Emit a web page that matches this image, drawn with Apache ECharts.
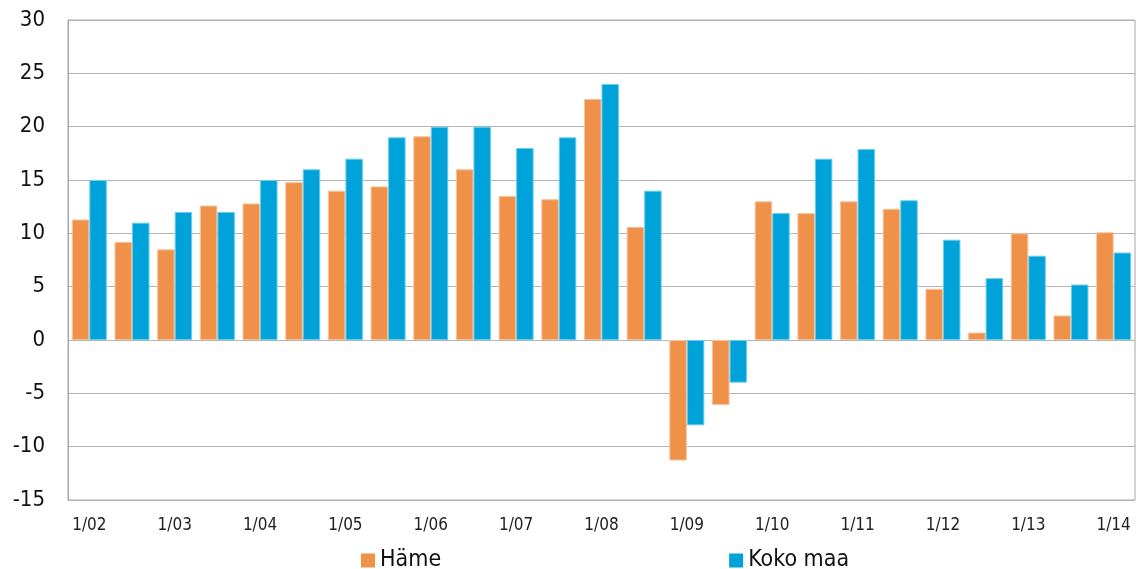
<!DOCTYPE html>
<html>
<head>
<meta charset="utf-8">
<script src="https://cdn.jsdelivr.net/npm/echarts@6/dist/echarts.min.js"></script>
<style>
  html, body { margin: 0; padding: 0; background: #fff; }
  #chart { width: 1146px; height: 569px; }
</style>
</head>
<body>
<div id="chart"></div>
<script>
// half-year periods, every other one labelled on the axis
const periods = [
  '1/02', '7/02', '1/03', '7/03', '1/04', '7/04', '1/05', '7/05', '1/06', '7/06',
  '1/07', '7/07', '1/08', '7/08', '1/09', '7/09', '1/10', '7/10', '1/11', '7/11',
  '1/12', '7/12', '1/13', '7/13', '1/14',
]
const hame = [
  11.3, 9.2, 8.5, 12.6, 12.8, 14.8, 14.0, 14.4, 19.1, 16.0,
  13.5, 13.2, 22.6, 10.6, -11.3, -6.1, 13.0, 11.9, 13.0, 12.3,
  4.8, 0.7, 10.0, 2.3, 10.1,
]
const kokoMaa = [
  15, 11, 12, 12, 15, 16, 17, 19, 20, 20,
  18, 19, 24, 14, -8, -4, 11.9, 17, 17.9, 13.1,
  9.4, 5.8, 7.9, 5.2, 8.2,
]

const font = 'DejaVu Sans Condensed'
const chart = echarts.init(document.getElementById('chart'), null, { renderer: 'canvas' })

chart.setOption({
  animation: false,
  textStyle: { fontFamily: font },
  grid: {
    left: 68, right: 11, top: 20, bottom: 69,
    show: true, borderColor: '#a6a6a6', borderWidth: 1,
  },
  legend: {
    top: 544,
    left: 356,
    itemWidth: 14,
    itemHeight: 14,
    itemGap: 288,
    icon: 'rect',
    itemStyle: { borderWidth: 0 },
    textStyle: { fontFamily: font, fontSize: 23, color: '#111' },
    data: ['Häme', 'Koko maa'],
  },
  xAxis: {
    type: 'category',
    data: periods,
    axisLine: { show: false, onZero: false },
    axisTick: { show: false },
    axisLabel: {
      interval: 1,
      margin: 17,
      fontSize: 17,
      color: '#222',
      fontFamily: font,
    },
  },
  yAxis: {
    type: 'value',
    min: -15,
    max: 30,
    interval: 5,
    axisLine: { show: true, lineStyle: { color: '#a6a6a6' } },
    axisTick: { show: false },
    axisLabel: { fontSize: 22, color: '#111', margin: 23, fontFamily: font },
    splitLine: { lineStyle: { color: '#b4b4b4', width: 1 } },
  },
  series: [
    {
      name: 'Häme',
      type: 'bar',
      data: hame,
      barGap: '0%',
      barCategoryGap: '18%',
      itemStyle: { color: '#F0914A', borderColor: '#f7c29b', borderWidth: 1 },
    },
    {
      name: 'Koko maa',
      type: 'bar',
      data: kokoMaa,
      barGap: '0%',
      barCategoryGap: '18%',
      itemStyle: { color: '#00A3D9', borderColor: '#6cccec', borderWidth: 1 },
    },
  ],
})
</script>
</body>
</html>
